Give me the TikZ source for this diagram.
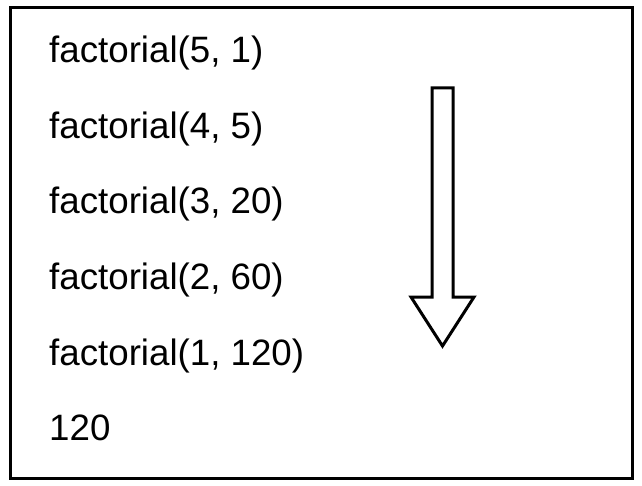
\documentclass[tikz,border=0pt]{standalone}
\usepackage{fontspec}
\setmainfont{Liberation Sans}
\begin{document}
\begin{tikzpicture}[x=1pt,y=-1pt,
  line/.style={anchor=base west,inner sep=0pt,font=\fontsize{36.7}{42}\selectfont},
  frame/.style={draw=black,line width=3pt},
  bigarrow/.style={draw=black,line width=3pt,fill=white,line join=miter}]
\useasboundingbox (0,0) rectangle (642,486);
\node[frame,minimum width=622pt,minimum height=470pt,inner sep=0pt] (box) at (321,243) {};
\node[line] (l1) at (49,63) {factorial(5, 1)};
\node[line] (l2) at (49,138.5) {factorial(4, 5)};
\node[line] (l3) at (49,214) {factorial(3, 20)};
\node[line] (l4) at (49,289.5) {factorial(2, 60)};
\node[line] (l5) at (49,365) {factorial(1, 120)};
\node[line] (l6) at (49,440.5) {120};
\draw[bigarrow] (432,88) -- (453,88) -- (453,297) -- (474,297) -- (442.5,346) -- (411,297) -- (432,297) -- cycle;
\end{tikzpicture}
\end{document}
